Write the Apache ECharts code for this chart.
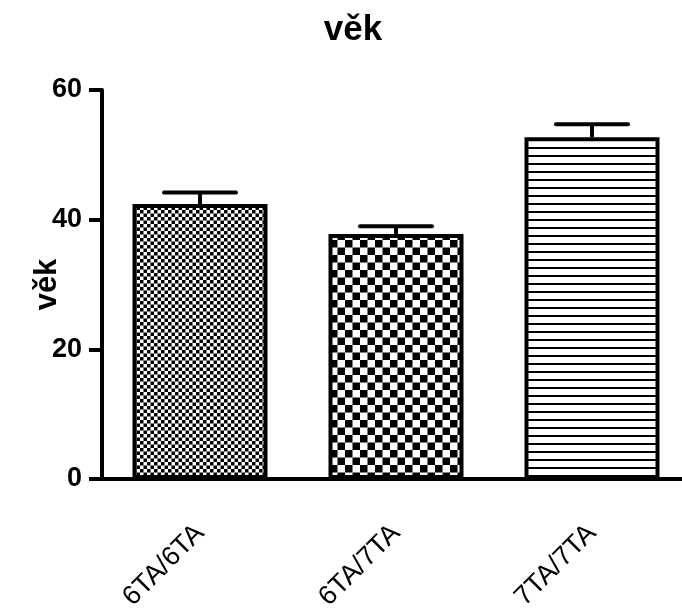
<!DOCTYPE html>
<html>
<head>
<meta charset="utf-8">
<script src="https://cdn.jsdelivr.net/npm/echarts@6/dist/echarts.min.js"></script>
<style>html,body{margin:0;padding:0;background:#fff;}#c{width:682px;height:609px;}</style>
</head>
<body>
<div id="c"></div>
<script>
const categories = ['6TA/6TA', '6TA/7TA', '7TA/7TA'];
const means = [42.4, 37.8, 52.7];
const errUp = [1.8, 1.2, 2.0];
const yTicks = [0, 20, 40, 60];

const FONT = '"Liberation Sans", Arial, sans-serif';

function makeCanvas(w, h, draw) {
  const c = document.createElement('canvas');
  c.width = w; c.height = h;
  const ctx = c.getContext('2d');
  ctx.fillStyle = '#fff'; ctx.fillRect(0, 0, w, h);
  ctx.fillStyle = '#000';
  draw(ctx);
  return c;
}
const fineChecker = makeCanvas(7, 7, ctx => {
  ctx.fillRect(0, 0, 3.5, 3.5);
  ctx.fillRect(3.5, 3.5, 3.5, 3.5);
});
const bigChecker = makeCanvas(15, 15, ctx => {
  ctx.fillRect(0, 0, 7.5, 7.5);
  ctx.fillRect(7.5, 7.5, 7.5, 7.5);
});
const hLines = makeCanvas(8, 8, ctx => {
  ctx.fillRect(0, 3, 8, 2);
});
const patterns = [fineChecker, bigChecker, hLines];

const chart = echarts.init(document.getElementById('c'), null, {renderer: 'canvas'});
chart.setOption({
  backgroundColor: '#fff',
  animation: false,
  title: {
    text: 'věk', left: 348, textAlign: 'center', top: 8,
    textStyle: {fontFamily: FONT, fontWeight: 'bold', fontSize: 35, color: '#000'}
  },
  grid: {left: 102, top: 90, right: -8, bottom: 130, outerBoundsMode: 'none', containLabel: false},
  xAxis: {
    type: 'category', data: categories,
    axisLine: {lineStyle: {color: '#000', width: 4}},
    axisTick: {alignWithLabel: true, length: 13, lineStyle: {color: '#000', width: 4}},
    axisLabel: {rotate: 45, margin: 50, fontFamily: FONT, fontSize: 27, color: '#000', interval: 0}
  },
  yAxis: {
    type: 'value', min: 0, max: 60, interval: 20,
    name: 'věk', nameLocation: 'middle', nameGap: 39, nameRotate: 90, nameMoveOverlap: false,
    nameTextStyle: {fontFamily: FONT, fontWeight: 'bold', fontSize: 31, color: '#000'},
    axisLine: {show: true, lineStyle: {color: '#000', width: 4}},
    axisTick: {show: true, length: 13, lineStyle: {color: '#000', width: 4}},
    axisLabel: {margin: 20, fontFamily: FONT, fontWeight: 'bold', fontSize: 27, color: '#000',
      formatter: v => yTicks.includes(v) ? String(v) : ''},
    splitLine: {show: false}
  },
  series: [
    {
      type: 'bar', barWidth: 135,
      data: means.map((v, i) => ({
        value: v,
        itemStyle: {color: {image: patterns[i], repeat: 'repeat'}, borderColor: '#000', borderWidth: 4}
      })),
      z: 2
    },
    {
      type: 'custom', z: 3,
      data: means.map((v, i) => [i, v, v + errUp[i]]),
      renderItem: function (params, api) {
        const base = api.coord([api.value(0), api.value(1)]);
        const top = api.coord([api.value(0), api.value(2)]);
        const half = 36;
        return {
          type: 'group',
          children: [
            {type: 'line', shape: {x1: base[0], y1: base[1], x2: top[0], y2: top[1]},
              style: {stroke: '#000', lineWidth: 4}},
            {type: 'line', shape: {x1: top[0] - half, y1: top[1], x2: top[0] + half, y2: top[1]},
              style: {stroke: '#000', lineWidth: 4, lineCap: 'round'}}
          ]
        };
      }
    }
  ]
});
</script>
</body>
</html>
